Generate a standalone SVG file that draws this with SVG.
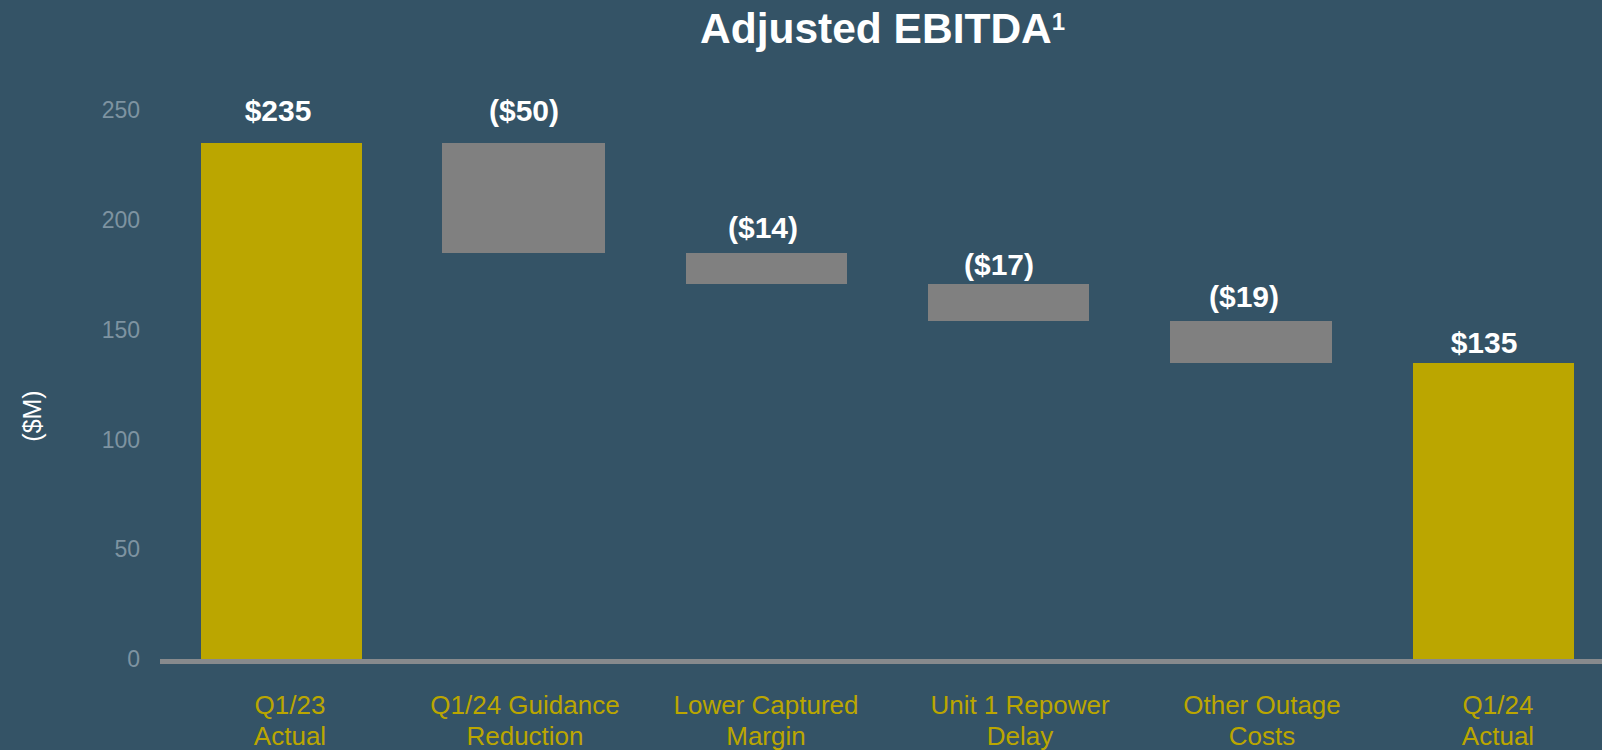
<svg xmlns="http://www.w3.org/2000/svg" width="1602" height="750" viewBox="0 0 1602 750">
  <style>
    .title { font-family: "Liberation Sans", Arial, sans-serif; font-weight: bold; font-size: 42.5px; fill: #ffffff; }
    .val { font-family: "Liberation Sans", Arial, sans-serif; font-weight: bold; font-size: 30px; fill: #ffffff; text-anchor: middle; }
    .tick { font-family: "Liberation Sans", Arial, sans-serif; font-size: 23px; fill: #7e93a1; text-anchor: end; }
    .cat { font-family: "Liberation Sans", Arial, sans-serif; font-size: 26px; fill: #bba600; text-anchor: middle; }
    .unit { font-family: "Liberation Sans", Arial, sans-serif; font-size: 25px; fill: #ffffff; text-anchor: middle; }
    .gold { fill: #bba600; }
    .grey { fill: #808080; }
  </style>
  <rect x="0" y="0" width="1602" height="750" fill="#345366"/>

  <text class="title" x="700" y="43">Adjusted EBITDA<tspan font-size="24" dy="-13">1</tspan></text>

  <g id="y-axis">
    <text class="tick" x="140" y="118">250</text>
    <text class="tick" x="140" y="228">200</text>
    <text class="tick" x="140" y="338">150</text>
    <text class="tick" x="140" y="448">100</text>
    <text class="tick" x="140" y="557">50</text>
    <text class="tick" x="140" y="667">0</text>
    <text class="unit" transform="translate(41,416) rotate(-90)">($M)</text>
  </g>

  <g id="bar-q123">
    <rect class="gold" x="201" y="143" width="161" height="516"/>
    <text class="val" x="278" y="121">$235</text>
    <text class="cat" x="290" y="714">Q1/23</text>
    <text class="cat" x="290" y="745">Actual</text>
  </g>

  <g id="bar-guidance">
    <rect class="grey" x="442" y="143" width="163" height="110"/>
    <text class="val" x="524" y="121">($50)</text>
    <text class="cat" x="525" y="714">Q1/24 Guidance</text>
    <text class="cat" x="525" y="745">Reduction</text>
  </g>

  <g id="bar-margin">
    <rect class="grey" x="686" y="253" width="161" height="31"/>
    <text class="val" x="763" y="238">($14)</text>
    <text class="cat" x="766" y="714">Lower Captured</text>
    <text class="cat" x="766" y="745">Margin</text>
  </g>

  <g id="bar-repower">
    <rect class="grey" x="928" y="284" width="161" height="37"/>
    <text class="val" x="999" y="275">($17)</text>
    <text class="cat" x="1020" y="714">Unit 1 Repower</text>
    <text class="cat" x="1020" y="745">Delay</text>
  </g>

  <g id="bar-outage">
    <rect class="grey" x="1170" y="321" width="162" height="42"/>
    <text class="val" x="1244" y="307">($19)</text>
    <text class="cat" x="1262" y="714">Other Outage</text>
    <text class="cat" x="1262" y="745">Costs</text>
  </g>

  <g id="bar-q124">
    <rect class="gold" x="1413" y="363" width="161" height="296"/>
    <text class="val" x="1484" y="353">$135</text>
    <text class="cat" x="1498" y="714">Q1/24</text>
    <text class="cat" x="1498" y="745">Actual</text>
  </g>

  <g id="connectors">
    <rect x="160" y="659" width="1442" height="5" fill="#878a8d"/>
  </g>
</svg>
